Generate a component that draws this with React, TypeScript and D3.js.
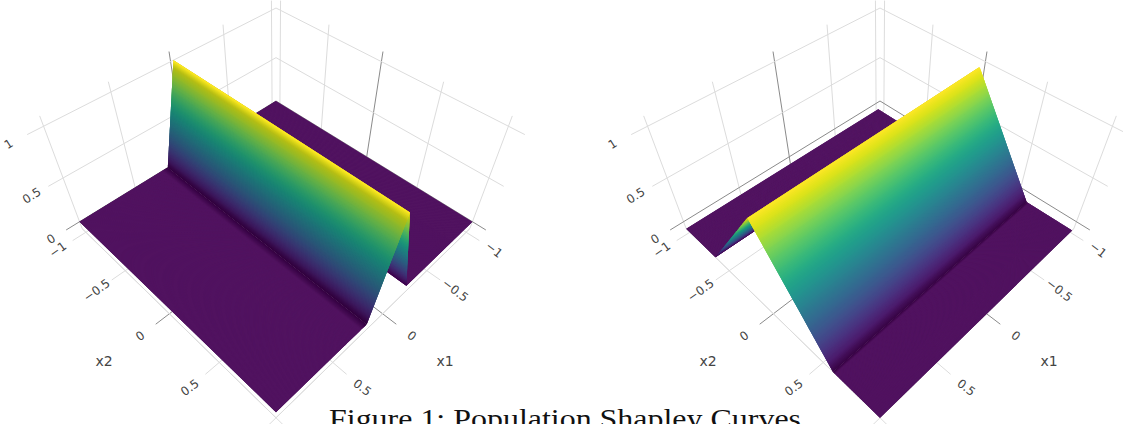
import React from "react";
import * as d3 from "d3";

// ---- data ----
const axisMin = -1.05;
const axisMax = 1;
const tickValues = [-1, -0.5, 0, 0.5, 1];
const tickLabels = ["\u22121", "\u22120.5", "0", "0.5", "1"];
const xTickValues = [-1, -0.5, 0, 0.5];
const zTickValues = [0, 0.5, 1];
const zTickLabels = ["0", "0.5", "1"];
const boxFloor = -0.087;
const boxTop = 1.09;

// Left surface: profile across x1 (constant along x2)
const leftProfileX = [-1.05, -0.24, -0.025, 0.18, 1];
const leftProfileZ = [0, 0, 1, 0, 0];
// Right surface: profile across x2 (constant along x1)
const rightProfileX = [-1.05, -0.669, -0.025, 0.59, 1];
const rightProfileZ = [-0.087, -0.087, 0.95, -0.087, -0.087];

const title = "Figure 1: Population Shapley Curves";

// ---- projective camera (vanishing points measured from the box) ----
const origin = [276, 101];
const vpX1 = [1153, -438];
const vpX2 = [-601, -438];
const vpZ = [276, 743];
const kX1 = -0.183;
const kX2 = -0.183;
const kZ = -0.1265;
const panelDx = [0, 604];

const u = d3.scaleLinear().domain([axisMin, axisMax]).range([0, 1]);

function project(a: number, b: number, z: number): [number, number] {
  const ka = kX1 * a, kb = kX2 * b, kz = kZ * z;
  const w = 1 + ka + kb + kz;
  return [
    (origin[0] + ka * vpX1[0] + kb * vpX2[0] + kz * vpZ[0]) / w,
    (origin[1] + ka * vpX1[1] + kb * vpX2[1] + kz * vpZ[1]) / w,
  ];
}

const pathOf = d3.line<[number, number]>().x(d => d[0]).y(d => d[1]);

type Seg = [[number, number, number], [number, number, number]];

function Line({ seg, color, width = 1 }: { seg: Seg; color: string; width?: number }) {
  const pts = [project(...seg[0]), project(...seg[1])];
  return <path d={pathOf(pts) ?? ""} stroke={color} strokeWidth={width} fill="none" />;
}

const GRID = "#dcdcdc";
const ZERO = "#8a8a8a";
const TICK_OUT = 1.055;

function shade(t: number, k: number, white: number) {
  const c = d3.rgb(d3.interpolateViridis(t));
  const f = (v: number) => Math.min(255, v * k + (255 - v * k) * white);
  return d3.rgb(f(c.r), f(c.g), f(c.b)).formatHex();
}

type Band = { a0: number; a1: number; z0: number; z1: number; fill: string };

// Build the shaded strips of a ridge profile, far to near. Every strip runs on
// under the next one so that no seam shows.
function buildBands(
  px: number[],
  pz: number[],
  faceLight: (seg: number, t: number, frac: number) => [number, number]
): Band[] {
  const out: Band[] = [];
  const zMin = d3.min(pz)!, zMax = d3.max(pz)!;
  const color = d3.scaleLinear().domain([zMin, zMax]).range([0, 1]);
  px.slice(0, -1).forEach((_, i) => {
    const flat = pz[i] === pz[i + 1];
    const n = flat ? 160 : 120;
    d3.range(n).forEach(j => {
      const f0 = j / n, fm = (j + 1) / n, f1 = Math.min(1, (j + 3) / n);
      const a0 = u(px[i] + (px[i + 1] - px[i]) * f0);
      const a1 = u(px[i] + (px[i + 1] - px[i]) * f1);
      const z0 = pz[i] + (pz[i + 1] - pz[i]) * f0;
      const z1 = pz[i] + (pz[i + 1] - pz[i]) * f1;
      const zm = pz[i] + (pz[i + 1] - pz[i]) * fm;
      const t = color((z0 + zm) / 2);
      const [k, white] = faceLight(i, t, (f0 + fm) / 2);
      out.push({ a0, a1, z0, z1, fill: shade(t, k, white) });
    });
  });
  return out;
}

const FLOOR: [number, number] = [1, 0.07];
const ramp = (x: number, from: number, to: number, span: number) =>
  from + (to - from) * Math.min(1, x / span);

function leftLight(seg: number, t: number, frac: number): [number, number] {
  if (seg === 0) return FLOOR;
  if (seg === 3) return frac < 0.07 ? [ramp(frac, 0.75, 1, 0.07), ramp(frac, 0, 0.07, 0.07)] : FLOOR;
  if (seg === 1) return [0.9, 0];
  // sloped face towards the viewer: dim, with a brighter crest
  if (t > 0.94) return [ramp(t - 0.94, 0.84, 1.02, 0.06), 0];
  return [t < 0.08 ? ramp(t, 0.72, 0.84, 0.08) : 0.84, 0];
}

function rightLight(seg: number, t: number, frac: number): [number, number] {
  if (seg === 0) return FLOOR;
  if (seg === 3) return frac < 0.05 ? [ramp(frac, 0.78, 1, 0.05), ramp(frac, 0, 0.07, 0.05)] : FLOOR;
  if (seg === 1) return [0.95, 0];
  return [t < 0.06 ? ramp(t, 0.78, 1, 0.06) : 1, 0.015];
}

function Panel({ index, px, pz, byX1, light, lowEdge }: {
  index: number;
  px: number[];
  pz: number[];
  byX1: boolean;
  light: (seg: number, t: number, frac: number) => [number, number];
  lowEdge: number;
}) {
  const bands = buildBands(px, pz, light);
  const a = u(axisMin), b = u(axisMax);
  const label = (xy: [number, number], s: string, rot: number, size = 12) => (
    <text
      key={s + xy[0]}
      transform={`translate(${xy[0]},${xy[1]}) rotate(${rot})`}
      textAnchor="middle"
      dominantBaseline="central"
      fontFamily="'DejaVu Sans', sans-serif"
      fontSize={size}
      fill="#444"
    >
      {s}
    </text>
  );
  return (
    <g transform={`translate(${panelDx[index]},0)`}>
      {/* walls */}
      {tickValues.map(v => (
        <g key={"w" + v}>
          <Line seg={[[u(v), 0, boxFloor], [u(v), 0, boxTop]]} color={v === 0 ? ZERO : GRID} />
          <Line seg={[[0, u(v), boxFloor], [0, u(v), boxTop]]} color={v === 0 ? ZERO : GRID} />
        </g>
      ))}
      {zTickValues.map(z => (
        <g key={"z" + z}>
          <Line seg={[[a, 0, z], [TICK_OUT, 0, z]]} color={z === 0 ? ZERO : GRID} />
          <Line seg={[[0, a, z], [0, TICK_OUT, z]]} color={z === 0 ? ZERO : GRID} />
        </g>
      ))}
      {/* floor grid and tick stubs */}
      {tickValues.map(v => (
        <g key={"f" + v}>
          <Line seg={[[u(v), 0, boxFloor], [u(v), TICK_OUT, boxFloor]]} color={v === 0 ? ZERO : GRID} />
          <Line seg={[[0, u(v), boxFloor], [TICK_OUT, u(v), boxFloor]]} color={v === 0 ? ZERO : GRID} />
        </g>
      ))}
      <Line seg={[[b, a, boxFloor], [b, b, boxFloor]]} color={GRID} />
      <Line seg={[[a, b, boxFloor], [b, b, boxFloor]]} color={GRID} />

      {/* surface, painted far to near */}
      {bands.map((s, i) => {
        const corners: [number, number][] = byX1
          ? [project(s.a0, lowEdge, s.z0), project(s.a0, b, s.z0), project(s.a1, b, s.z1), project(s.a1, lowEdge, s.z1)]
          : [project(lowEdge, s.a0, s.z0), project(b, s.a0, s.z0), project(b, s.a1, s.z1), project(lowEdge, s.a1, s.z1)];
        return <path key={i} d={(pathOf(corners) ?? "") + "Z"} fill={s.fill} />;
      })}

      {/* tick labels */}
      {xTickValues.map(v => label(project(u(v), 1.115, boxFloor), tickLabels[tickValues.indexOf(v)], 38))}
      {xTickValues.map(v => label(project(1.115, u(v), boxFloor), tickLabels[tickValues.indexOf(v)], -36))}
      {zTickValues.map((z, i) => label(project(1.115, 0, z), zTickLabels[i], -32))}
      {label([445, 361], "x1", 0, 14)}
      {label([104, 361], "x2", 0, 14)}
    </g>
  );
}

export default function App() {
  return (
    <svg
      width={1123}
      height={424}
      viewBox="0 0 1123 424"
      style={{ position: "absolute", left: 0, top: 0, background: "#fff" }}
    >
      <Panel index={0} px={leftProfileX} pz={leftProfileZ} byX1={true} light={leftLight} lowEdge={0} />
      <Panel index={1} px={rightProfileX} pz={rightProfileZ} byX1={false} light={rightLight} lowEdge={0.012} />
      <text
        x={565}
        y={428}
        textAnchor="middle"
        fontFamily="'Liberation Serif', serif"
        fontSize={28}
        textLength={472}
        lengthAdjust="spacingAndGlyphs"
        fill="#111"
      >
        {title}
      </text>
    </svg>
  );
}
